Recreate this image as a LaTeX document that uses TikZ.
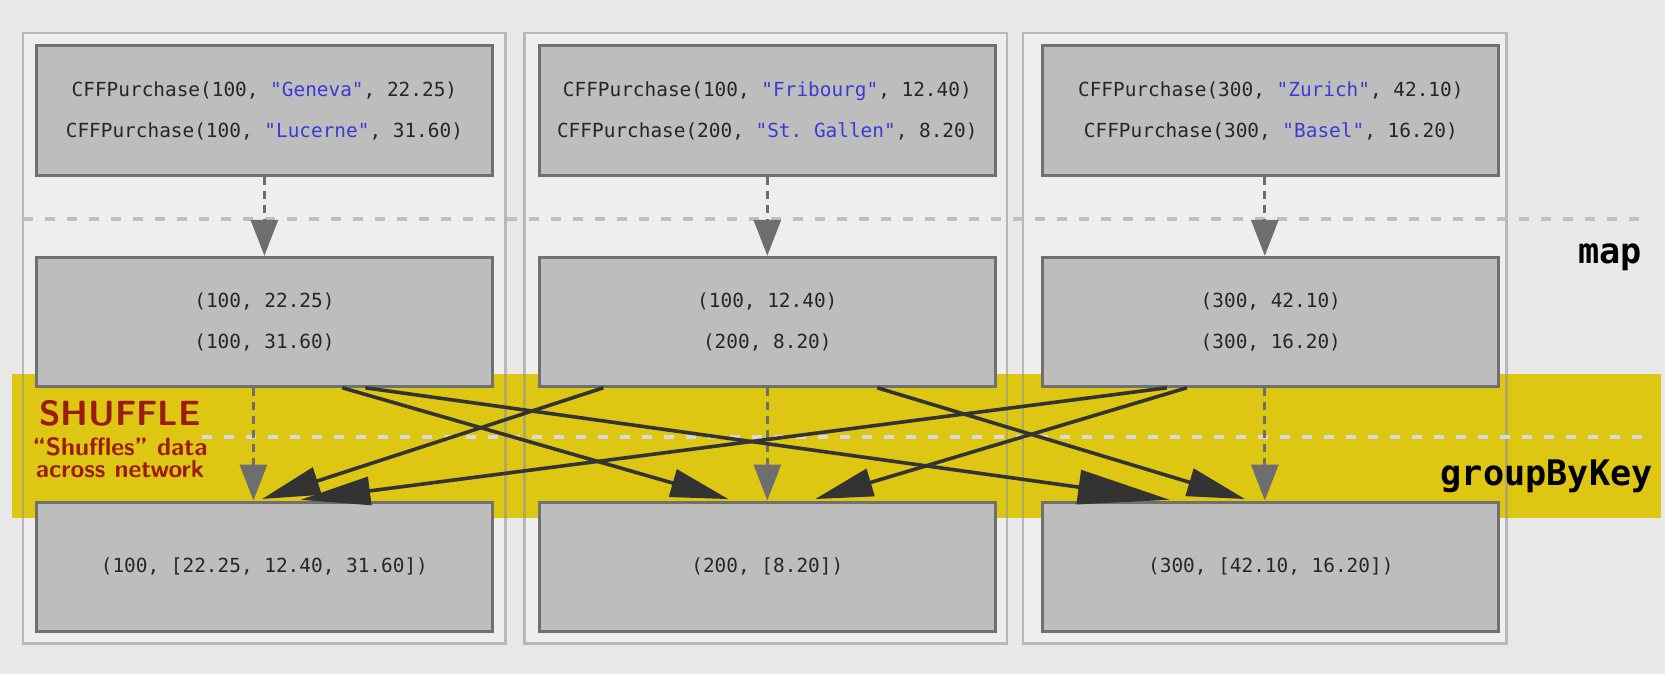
\documentclass[tikz,border=0pt]{standalone}
\usepackage{fontspec}
\setmonofont{DejaVu Sans Mono}
\usetikzlibrary{arrows.meta}
\definecolor{bgc}{RGB}{232,232,232}
\definecolor{colfill}{RGB}{238,238,238}
\definecolor{colline}{RGB}{150,150,150}
\definecolor{boxfill}{RGB}{189,189,189}
\definecolor{boxline}{RGB}{112,112,112}
\definecolor{band}{RGB}{221,199,18}
\definecolor{cityblue}{RGB}{58,58,214}
\definecolor{shufred}{RGB}{155,28,14}
\definecolor{hopc}{RGB}{51,51,51}
\definecolor{pipec}{RGB}{110,110,110}
\newcommand\city[1]{\textcolor{cityblue}{#1}}
\tikzset{
	box/.style={draw=boxline,fill=boxfill,line width=1.5pt,minimum width=228pt,minimum height=64.5pt,
		inner sep=0pt,align=center,text=black!85,font=\ttfamily\fontsize{9.7}{20.5}\selectfont},
	pipe/.style={draw=pipec,line width=1.6pt,dash pattern=on 4pt off 3pt,-{Triangle[length=18pt,width=13.5pt]}},
	hop/.style={draw=hopc,line width=1.8pt,shorten >=2.5pt,-{Triangle[length=29pt,width=14pt]}},
	stage/.style={font=\ttfamily\bfseries\fontsize{17.6}{20}\selectfont,anchor=base east,inner sep=0pt},
}
\begin{document}
\begin{tikzpicture}[x=0.5pt,y=-0.5pt]
	\fill[bgc](0,0)rectangle(1665,674);
	\fill[colfill](23,33)rectangle(505.5,643.5);
	\fill[colfill](524.6,33)rectangle(1006.8,643.5);
	\fill[colfill](1023,33)rectangle(1506.5,643.5);
	\fill[band](12,374)rectangle(1661,518);
	\draw[colline,line width=1.3pt,draw opacity=.6](23,33)rectangle(505.5,643.5)
		(524.6,33)rectangle(1006.8,643.5)(1023,33)rectangle(1506.5,643.5);
	\draw[gray!50,line width=2pt,dash pattern=on 5pt off 6pt](23,219)--(1646,219);
	\draw[gray!30,line width=2pt,dash pattern=on 5pt off 6pt](202,436.5)--(1646,436.5);
	\node[box](p1)at(264.4,110.5){CFFPurchase(100, \city{"Geneva"}, 22.25)\\CFFPurchase(100, \city{"Lucerne"}, 31.60)};
	\node[box](p2)at(767.3,110.5){CFFPurchase(100, \city{"Fribourg"}, 12.40)\\CFFPurchase(200, \city{"St. Gallen"}, 8.20)};
	\node[box](p3)at(1270.8,110.5){CFFPurchase(300, \city{"Zurich"}, 42.10)\\CFFPurchase(300, \city{"Basel"}, 16.20)};
	\node[box](m1)at(264.4,321.8){(100, 22.25)\\(100, 31.60)};
	\node[box](m2)at(767.3,321.8){(100, 12.40)\\(200, 8.20)};
	\node[box](m3)at(1270.8,321.8){(300, 42.10)\\(300, 16.20)};
	\node[box](g1)at(264.4,566.5){(100, [22.25, 12.40, 31.60])};
	\node[box](g2)at(767.3,566.5){(200, [8.20])};
	\node[box](g3)at(1270.8,566.5){(300, [42.10, 16.20])};
	\draw[pipe](p1)--(m1);
	\draw[pipe](p2)--(m2);
	\draw[pipe]([xshift=-3pt]p3.south)--([xshift=-3pt]m3.north);
	\draw[pipe]([xshift=-5.5pt]m1.south)--([xshift=-5.5pt]g1.north);
	\draw[pipe](m2)--(g2);
	\draw[pipe]([xshift=-3pt]m3.south)--([xshift=-3pt]g3.north);
	\draw[hop]([xshift=39pt]m1.south)--([xshift=-17pt]g2.north);
	\draw[hop,-{Triangle[length=46pt,width=17pt]}]([xshift=50.5pt]m1.south)--([xshift=-48pt]g3.north);
	\draw[hop]([xshift=-82pt]m2.south)--([xshift=-3.5pt]g1.north);
	\draw[hop]([xshift=55pt]m2.south)--([xshift=-10.5pt]g3.north);
	\draw[hop,-{Triangle[length=35pt,width=14pt]}]([xshift=-52pt]m3.south)--([xshift=15.5pt]g1.north);
	\draw[hop]([xshift=-42pt]m3.south)--([xshift=21.5pt]g2.north);
	\node[stage](map)at(1642,263){map};
	\node[stage](gbk)at(1653,485){groupByKey};
	\node[font=\sffamily\bfseries\fontsize{17.5}{18}\selectfont,text=shufred,anchor=base](shuf)at(120,425){SHUFFLE};
	\node[font=\sffamily\bfseries\fontsize{12.5}{11}\selectfont,text=shufred,align=center](note)at(120,458){“Shuffles” data\\across network};
	\pgfresetboundingbox
	\path[use as bounding box](0,0)rectangle(1665,674);
\end{tikzpicture}
\end{document}
